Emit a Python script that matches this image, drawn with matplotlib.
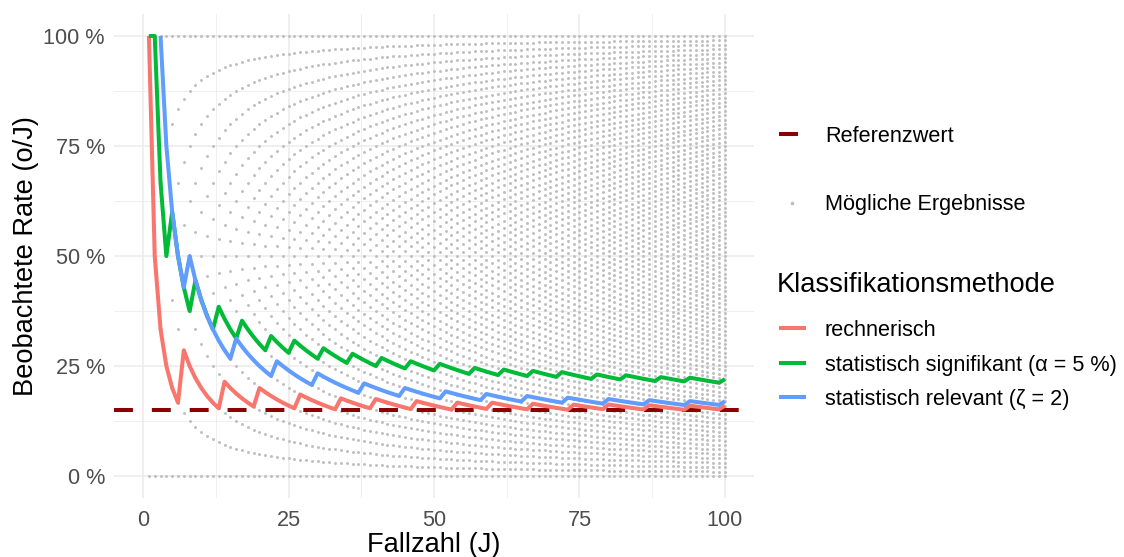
import numpy as np
import matplotlib
matplotlib.use('Agg')
import matplotlib.pyplot as plt
from matplotlib.lines import Line2D
from matplotlib.ticker import FuncFormatter, MultipleLocator

plt.rcParams['font.family'] = ['Liberation Sans', 'DejaVu Sans']

# Fallzahl J und Referenzwert
fallzahl = np.arange(1, 101)
referenzwert = 0.15

# kleinste auffaellige Anzahl o je Fallzahl J
o_rechnerisch = [1, 1, 1, 1, 1, 1, 2, 2, 2, 2,
                 2, 2, 2, 3, 3, 3, 3, 3, 3, 4,
                 4, 4, 4, 4, 4, 4, 5, 5, 5, 5,
                 5, 5, 5, 6, 6, 6, 6, 6, 6, 7,
                 7, 7, 7, 7, 7, 7, 8, 8, 8, 8,
                 8, 8, 8, 9, 9, 9, 9, 9, 9, 10,
                 10, 10, 10, 10, 10, 10, 11, 11, 11, 11,
                 11, 11, 11, 12, 12, 12, 12, 12, 12, 13,
                 13, 13, 13, 13, 13, 13, 14, 14, 14, 14,
                 14, 14, 14, 15, 15, 15, 15, 15, 15, 16]
o_signifikant = [1, 2, 2, 2, 3, 3, 3, 3, 4, 4,
                 4, 4, 5, 5, 5, 5, 6, 6, 6, 6,
                 6, 7, 7, 7, 7, 8, 8, 8, 8, 8,
                 9, 9, 9, 9, 9, 10, 10, 10, 10, 10,
                 11, 11, 11, 11, 11, 12, 12, 12, 12, 12,
                 13, 13, 13, 13, 13, 13, 14, 14, 14, 14,
                 14, 15, 15, 15, 15, 15, 16, 16, 16, 16,
                 16, 17, 17, 17, 17, 17, 17, 18, 18, 18,
                 18, 18, 19, 19, 19, 19, 19, 19, 20, 20,
                 20, 20, 20, 21, 21, 21, 21, 21, 21, 22]
o_relevant = [np.nan, np.nan, 3, 3, 3, 3, 3, 4, 4, 4,
              4, 4, 4, 4, 4, 5, 5, 5, 5, 5,
              5, 5, 6, 6, 6, 6, 6, 6, 6, 7,
              7, 7, 7, 7, 7, 7, 7, 8, 8, 8,
              8, 8, 8, 8, 9, 9, 9, 9, 9, 9,
              9, 10, 10, 10, 10, 10, 10, 10, 11, 11,
              11, 11, 11, 11, 11, 12, 12, 12, 12, 12,
              12, 12, 13, 13, 13, 13, 13, 13, 13, 14,
              14, 14, 14, 14, 14, 14, 15, 15, 15, 15,
              15, 15, 15, 16, 16, 16, 16, 16, 16, 17]

methoden = ['rechnerisch',
            'statistisch signifikant (\u03b1 = 5 %)',
            'statistisch relevant (\u03b6 = 2)']
farben = ['#F8766D', '#00BA38', '#619CFF']

grau = '#BEBEBE'
dunkelrot = '#8B0000'

fig = plt.figure(figsize=(11.24, 5.57), dpi=100)
ax = fig.add_axes([114 / 1124, 59 / 557, 640 / 1124, 484 / 557])

# alle moeglichen Ergebnisse o/J
jj = np.concatenate([np.full(j + 1, j) for j in fallzahl])
oo = np.concatenate([np.arange(j + 1) for j in fallzahl])
ax.scatter(jj, oo / jj, s=4.5, color=grau, linewidths=0, zorder=2)

ax.axhline(referenzwert, color=dunkelrot, lw=2.9, ls=(0, (4.7, 4.7)), zorder=3)

for o, farbe in zip([o_rechnerisch, o_signifikant, o_relevant], farben):
    ax.plot(fallzahl, np.array(o, dtype=float) / fallzahl, color=farbe, lw=2.9,
            solid_capstyle='butt', solid_joinstyle='round', zorder=4)

ax.set_xlim(-5, 105)
ax.set_ylim(-0.05, 1.05)
ax.xaxis.set_major_locator(MultipleLocator(25))
ax.xaxis.set_minor_locator(MultipleLocator(12.5))
ax.yaxis.set_major_locator(MultipleLocator(0.25))
ax.yaxis.set_minor_locator(MultipleLocator(0.125))
ax.yaxis.set_major_formatter(FuncFormatter(lambda v, p: '%d %%' % round(v * 100)))
ax.grid(which='major', color='#EBEBEB', lw=1.1, zorder=0)
ax.grid(which='minor', color='#EBEBEB', lw=0.55, zorder=0)
ax.set_axisbelow(True)
for s in ax.spines.values():
    s.set_visible(False)
ax.tick_params(which='both', length=0, labelsize=15.6, labelcolor='#4D4D4D')
ax.tick_params(axis='x', pad=9)
ax.tick_params(axis='y', pad=6.5)
ax.set_xlabel('Fallzahl (J)', fontsize=19.6, labelpad=0)
ax.set_ylabel('Beobachtete Rate (o/J)', fontsize=19.6, labelpad=3)

# Legenden
leg1 = fig.legend(handles=[Line2D([], [], color=dunkelrot, lw=2.9, solid_capstyle='butt')],
                  labels=['Referenzwert'], loc='center left',
                  bbox_to_anchor=(779 / 1124, 1 - 136 / 557), frameon=False,
                  fontsize=15.6, handlelength=0.88, handletextpad=1.24,
                  borderpad=0, borderaxespad=0)
leg2 = fig.legend(handles=[Line2D([], [], ls='', marker='o', ms=1.6, color=grau)],
                  labels=['M\u00f6gliche Ergebnisse'], loc='center left',
                  bbox_to_anchor=(779 / 1124, 1 - 205 / 557), frameon=False,
                  fontsize=15.6, handlelength=1.24, handletextpad=0.88,
                  borderpad=0, borderaxespad=0)
fig.text(777 / 1124, 1 - 285 / 557, 'Klassifikationsmethode', fontsize=19.6,
         ha='left', va='center')
leg3 = fig.legend(handles=[Line2D([], [], color=f, lw=2.9, solid_capstyle='butt') for f in farben],
                  labels=methoden, loc='center left',
                  bbox_to_anchor=(779 / 1124, 1 - 365 / 557), frameon=False,
                  fontsize=15.6, handlelength=1.24, handletextpad=0.88,
                  labelspacing=0.62, borderpad=0, borderaxespad=0)

fig.savefig('out.png', dpi=100)
